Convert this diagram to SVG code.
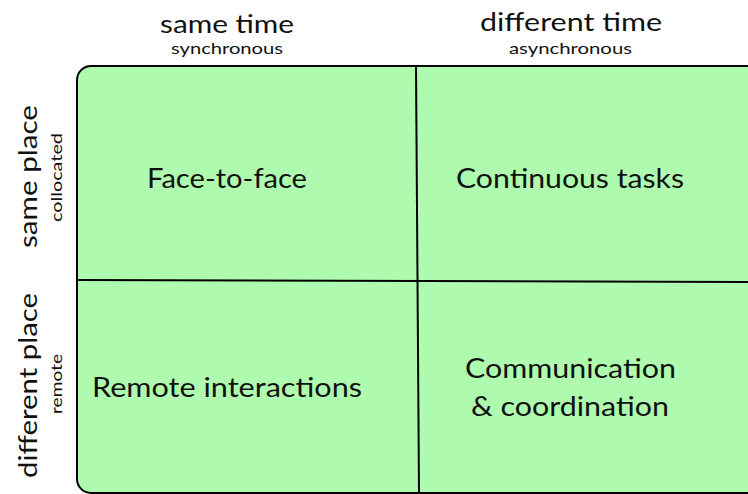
<svg xmlns="http://www.w3.org/2000/svg" width="748" height="494" viewBox="0 0 748 494">
  <style>
    text { font-family: "Lato", "Open Sans", "Liberation Sans", sans-serif; fill: #111; }
    .head { font-size: 25px; }
    .sub { font-size: 15px; }
    .cell { font-size: 27px; }
    .grid { stroke: #000; stroke-width: 2; fill: none; }
  </style>
  <rect width="748" height="494" fill="#fff"/>

  <!-- matrix background -->
  <g id="matrix">
    <rect x="77" y="66" width="720" height="427" rx="14" ry="14" fill="#aefaae" stroke="#000" stroke-width="2"/>
  </g>

  <!-- dividers -->
  <g id="connectors" class="grid">
    <line x1="416" y1="66" x2="419" y2="493"/>
    <line x1="77" y1="280" x2="748" y2="282"/>
  </g>

  <!-- column headers -->
  <g id="col-same-time">
    <text class="head" x="160" y="33" textLength="134" lengthAdjust="spacingAndGlyphs">same time</text>
    <text class="sub" x="171" y="54" textLength="112" lengthAdjust="spacingAndGlyphs">synchronous</text>
  </g>
  <g id="col-different-time">
    <text class="head" x="480" y="31" textLength="182" lengthAdjust="spacingAndGlyphs">different time</text>
    <text class="sub" x="509" y="54" textLength="123" lengthAdjust="spacingAndGlyphs">asynchronous</text>
  </g>

  <!-- row headers -->
  <g id="row-same-place">
    <text class="head" transform="translate(37,248) rotate(-90)" textLength="143" lengthAdjust="spacingAndGlyphs">same place</text>
    <text class="sub" transform="translate(62,222) rotate(-90)" textLength="89" lengthAdjust="spacingAndGlyphs">collocated</text>
  </g>
  <g id="row-different-place">
    <text class="head" transform="translate(37,478) rotate(-90)" textLength="185" lengthAdjust="spacingAndGlyphs">different place</text>
    <text class="sub" transform="translate(62,414) rotate(-90)" textLength="60" lengthAdjust="spacingAndGlyphs">remote</text>
  </g>

  <!-- quadrants -->
  <g id="face-to-face">
    <text class="cell" x="147" y="188" textLength="160" lengthAdjust="spacingAndGlyphs">Face-to-face</text>
  </g>
  <g id="continuous-tasks">
    <text class="cell" x="456" y="188" textLength="228" lengthAdjust="spacingAndGlyphs">Continuous tasks</text>
  </g>
  <g id="remote-interactions">
    <text class="cell" x="92" y="397" textLength="270" lengthAdjust="spacingAndGlyphs">Remote interactions</text>
  </g>
  <g id="communication-coordination">
    <text class="cell" x="465" y="378" textLength="211" lengthAdjust="spacingAndGlyphs">Communication</text>
    <text class="cell" x="471" y="416" textLength="198" lengthAdjust="spacingAndGlyphs">&amp; coordination</text>
  </g>
</svg>
